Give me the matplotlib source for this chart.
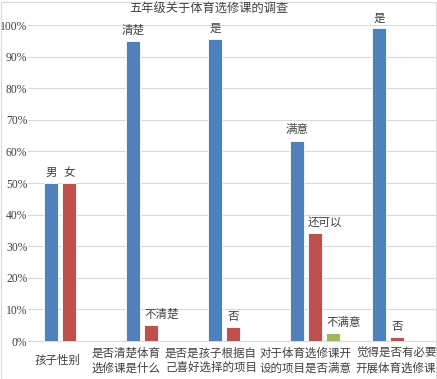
import matplotlib
matplotlib.use('Agg')
import matplotlib.pyplot as plt
import matplotlib.transforms as mtransforms
import numpy as np

plt.rcParams['font.family'] = ['Liberation Serif', 'Noto Sans CJK SC']

title = "五年级关于体育选修课的调查"
categories = ["孩子性别", "是否清楚体育\n选修课是什么", "是否是孩子根据自\n己喜好选择的项目",
              "对于体育选修课开\n设的项目是否满意", "觉得是否有必要\n开展体育选修课"]
s1 = [0.50, 0.95, 0.957, 0.634, 0.989]
s2 = [0.50, 0.052, 0.045, 0.342, 0.013]
s3 = [0.0, 0.0, 0.0, 0.026, 0.0]
lab1 = ["男", "清楚", "是", "满意", "是"]
lab2 = ["女", "不清楚", "否", "还可以", "否"]
lab3 = ["", "", "", "不满意", ""]
yticks = [0, 0.1, 0.2, 0.3, 0.4, 0.5, 0.6, 0.7, 0.8, 0.9, 1.0]

colors = ["#4F81BD", "#C0504D", "#9BBB59"]
W, H = 437, 379
fig = plt.figure(figsize=(W / 100, H / 100), dpi=100)
ax = fig.add_axes([28 / W, 1 - 341 / H, 410 / W, (341 - 25) / H])

x = np.arange(len(categories))
bw = 0.171
step = 0.22
series = [(s1, lab1), (s2, lab2), (s3, lab3)]
for i, (vals, labs) in enumerate(series):
    pos = x + (i - 1) * step
    ax.bar(pos, vals, width=bw, color=colors[i], edgecolor='white', linewidth=0.6, zorder=3)
    for p, v, t in zip(pos, vals, labs):
        if not t:
            continue
        if len(t) == 3:
            ax.annotate(t, (p - bw / 2, v), xytext=(0, 3), textcoords='offset points',
                        ha='left', va='bottom', fontsize=8.3, color='#404040')
        else:
            ax.annotate(t, (p, v), xytext=(0, 3), textcoords='offset points',
                        ha='center', va='bottom', fontsize=8.3, color='#404040')

ax.set_xlim(-0.5, len(categories) - 0.5)
ax.set_ylim(0, 1.0)
ax.set_yticks(yticks)
ax.set_yticklabels([f"{int(round(t * 100))}%" for t in yticks], fontsize=8.4, color='#404040')
ax.set_xticks(x)
ax.set_xticklabels(categories, fontsize=8.3, color='#404040', va='center', linespacing=1.25)
ax.tick_params(axis='x', length=0, pad=14.5)
ax.tick_params(axis='y', length=0, pad=0.5)

# label shifts seen in the original (px)
shifts = [-11, -25, -22, -9, -1]
for lbl, s in zip(ax.get_xticklabels(), shifts):
    lbl.set_transform(lbl.get_transform() + mtransforms.ScaledTranslation(s * 0.72 / 72, 0, fig.dpi_scale_trans))

ax.grid(axis='y', color='#D9D9D9', linewidth=0.8, zorder=0)
for sp in ['top', 'right', 'left']:
    ax.spines[sp].set_visible(False)
ax.spines['bottom'].set_color('#D9D9D9')

fig.text(209 / W, 1 - 10 / H, title, ha='center', va='center', fontsize=8.8, color='#404040')
fig.patches.append(plt.Rectangle((0.5 / W, 0.5 / H), 1 - 1.5 / W, 1 - 2 / H, transform=fig.transFigure,
                                 fill=False, edgecolor='#D9D9D9', linewidth=0.8))

fig.savefig("out.png", dpi=100)
